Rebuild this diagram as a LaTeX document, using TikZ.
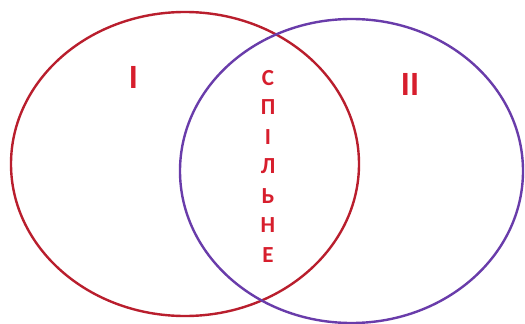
\documentclass[tikz,border=0pt]{standalone}
\usepackage{fontspec}
\setmainfont{Carlito}
\definecolor{ellred}{RGB}{185,30,45}
\definecolor{ellpurple}{RGB}{105,60,170}
\definecolor{txtred}{RGB}{215,30,45}
\tikzset{
  ring/.style={line width=2.4pt},
  lab/.style={text=txtred,font=\bfseries\fontsize{34}{34}\selectfont,inner sep=0pt,anchor=base},
  vlet/.style={text=txtred,font=\bfseries\fontsize{23}{23}\selectfont,inner sep=0pt,anchor=base}
}
\begin{document}
\begin{tikzpicture}[x=1pt,y=-1pt]
\useasboundingbox (0,0) rectangle (525,324);
\fill[white] (0,0) rectangle (525,324);
\draw[ring,ellred] (185,164) ellipse [x radius=174,y radius=152];
\draw[ring,ellpurple] (351.5,171) ellipse [x radius=171.5,y radius=152];
\node[lab] (one) at (133.5,88) {I};
\node[lab] (two) at (410,95) {II};
\foreach \ch [count=\i] in {С,П,І,Л,Ь,Н,Е}{
  \node[vlet] (l\i) at (268,{85+(\i-1)*29.5}) {\ch};
}
\end{tikzpicture}
\end{document}
